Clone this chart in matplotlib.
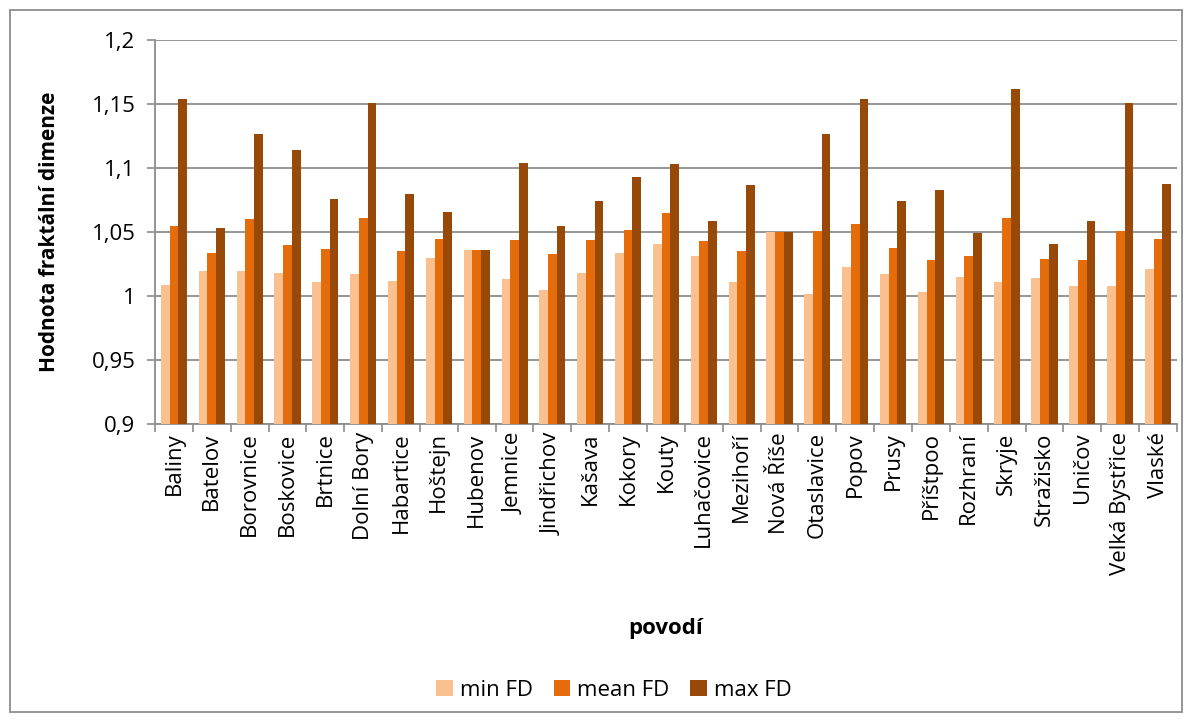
import numpy as np
import matplotlib
matplotlib.use("Agg")
from matplotlib import pyplot as plt
from matplotlib.patches import Rectangle
from matplotlib.ticker import FuncFormatter, MultipleLocator

categories = ["Baliny", "Batelov", "Borovnice", "Boskovice", "Brtnice", "Dolní Bory",
              "Habartice", "Hoštejn", "Hubenov", "Jemnice", "Jindřichov", "Kašava",
              "Kokory", "Kouty", "Luhačovice", "Mezihoří", "Nová Říše", "Otaslavice",
              "Popov", "Prusy", "Příštpoo", "Rozhraní", "Skryje", "Stražisko",
              "Uničov", "Velká Bystřice", "Vlaské"]
min_fd = [1.009, 1.020, 1.020, 1.018, 1.011, 1.017, 1.012, 1.030, 1.036, 1.013,
          1.005, 1.018, 1.034, 1.041, 1.031, 1.011, 1.050, 1.002, 1.023, 1.017,
          1.003, 1.015, 1.011, 1.014, 1.008, 1.008, 1.021]
mean_fd = [1.055, 1.034, 1.060, 1.040, 1.037, 1.061, 1.035, 1.045, 1.036, 1.044,
           1.033, 1.044, 1.052, 1.065, 1.043, 1.035, 1.050, 1.051, 1.056, 1.038,
           1.028, 1.031, 1.061, 1.029, 1.028, 1.051, 1.045]
max_fd = [1.154, 1.053, 1.127, 1.114, 1.076, 1.151, 1.080, 1.066, 1.036, 1.104,
          1.055, 1.074, 1.093, 1.103, 1.059, 1.087, 1.050, 1.127, 1.154, 1.074,
          1.083, 1.049, 1.162, 1.041, 1.059, 1.151, 1.088]

plt.rcParams["font.family"] = ["Open Sans", "DejaVu Sans"]

fig = plt.figure(figsize=(11.92, 7.22), dpi=100)
ax = fig.add_axes([0.130, 0.4127, 0.8574, 0.5315])

x = np.arange(len(categories))
w = 0.23
base = 0.9
ax.bar(x - w, np.array(min_fd) - base, w, bottom=base, color="#FAC090", label="min FD", zorder=3)
ax.bar(x, np.array(mean_fd) - base, w, bottom=base, color="#E46C0A", label="mean FD", zorder=3)
ax.bar(x + w, np.array(max_fd) - base, w, bottom=base, color="#984807", label="max FD", zorder=3)

ax.set_xlim(-0.5, len(categories) - 0.5)
ax.set_ylim(0.9, 1.2)
ax.yaxis.set_major_locator(MultipleLocator(0.05))
ax.yaxis.set_major_formatter(FuncFormatter(lambda v, p: f"{round(v, 2):g}".replace(".", ",")))
ax.grid(axis="y", color="#8c8c8c", linewidth=1.3, zorder=0)

ax.set_xticks(np.arange(len(categories) + 1) - 0.5)
ax.set_xticklabels([])
ax.set_xticks(x, minor=True)
ax.set_xticklabels(categories, minor=True, rotation=90, fontsize=16)
ax.tick_params(axis="x", which="minor", length=0, pad=6)
ax.tick_params(axis="x", which="major", length=6, color="#8c8c8c", width=1.2)
ax.tick_params(axis="y", length=6, color="#8c8c8c", width=1.2, labelsize=16, pad=8)

for s in ["top", "right"]:
    ax.spines[s].set_visible(False)
for s in ["left", "bottom"]:
    ax.spines[s].set_color("#8c8c8c")
    ax.spines[s].set_linewidth(1.3)

ax.set_ylabel("Hodnota fraktální dimenze", fontsize=15, fontweight="bold")
ax.yaxis.set_label_coords(-0.093, 0.5)
ax.set_xlabel("povodí", fontsize=16, fontweight="bold")
ax.xaxis.set_label_coords(0.5, -0.506)

fig.legend(loc="center", bbox_to_anchor=(0.515, 0.044), ncol=3, frameon=False,
           fontsize=16, handlelength=0.75, handleheight=0.75, columnspacing=0.95,
           handletextpad=0.3)

fig.patches.append(Rectangle((10 / 1192, 10 / 722), 1172 / 1192, 702 / 722,
                             transform=fig.transFigure, fill=False,
                             edgecolor="#8c8c8c", linewidth=1.3))

fig.savefig("out.png", dpi=100)
